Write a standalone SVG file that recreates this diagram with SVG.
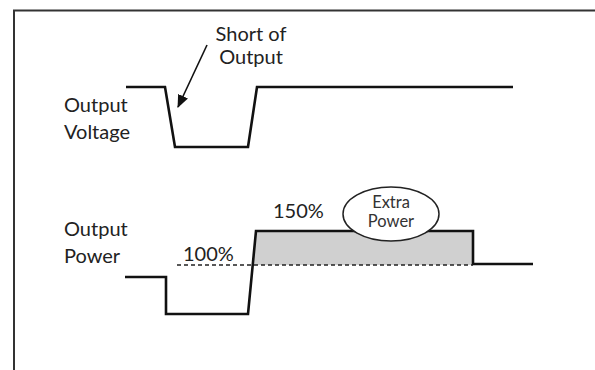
<svg xmlns="http://www.w3.org/2000/svg" width="595" height="370" viewBox="0 0 595 370">
  <style>
    .lbl { font-family: "Lato", "Open Sans", "Liberation Sans", sans-serif; font-size: 20px; fill: #222; }
    .small { font-family: "Lato", "Open Sans", "Liberation Sans", sans-serif; font-size: 16.5px; fill: #333; }
    .wave { fill: none; stroke: #111; stroke-width: 2.6; stroke-linejoin: miter; }
    .frame { fill: none; stroke: #333; stroke-width: 2; }
  </style>
  <defs>
    <marker id="arrowhead" viewBox="0 0 12 10" refX="11" refY="5" markerWidth="13" markerHeight="11" markerUnits="userSpaceOnUse" orient="auto">
      <path d="M0,0 L12,5 L0,10 z" fill="#111"/>
    </marker>
  </defs>
  <rect width="595" height="370" fill="#fff"/>

  <!-- outer frame: top and left edges -->
  <path class="frame" d="M14,370 V10.5 H595"/>

  <!-- output voltage trace -->
  <g id="voltage">
    <path class="wave" d="M126,87 H165 L175,147 H248 L257,87 H513"/>
    <text class="lbl" x="64" y="112">Output</text>
    <text class="lbl" x="64" y="139">Voltage</text>
  </g>

  <!-- output power trace with the extra power region -->
  <g id="power">
    <polygon points="252.7,265 256,231 473,231 473,265" fill="#d0d0d0"/>
    <path class="wave" d="M125,277 H166 V314 H248 L256,231 H473 V264 H533"/>
    <text class="lbl" x="64" y="236">Output</text>
    <text class="lbl" x="64" y="263">Power</text>
  </g>

  <g id="level-100">
    <text class="lbl" x="183" y="261">100%</text>
  </g>
  <g id="level-150">
    <text class="lbl" x="273" y="218">150%</text>
  </g>

  <g id="extra-power">
    <ellipse cx="391" cy="214" rx="48" ry="27" fill="#fff" stroke="#222" stroke-width="1.5"/>
    <text class="small" x="391" y="208" text-anchor="middle">Extra</text>
    <text class="small" x="391" y="227" text-anchor="middle">Power</text>
  </g>

  <g id="short-label">
    <text class="lbl" x="251" y="41" text-anchor="middle">Short of</text>
    <text class="lbl" x="251" y="64" text-anchor="middle">Output</text>
  </g>

  <!-- connectors -->
  <g id="connectors">
    <line x1="207" y1="45" x2="178" y2="107" stroke="#111" stroke-width="1.6" marker-end="url(#arrowhead)"/>
    <line x1="177" y1="265" x2="473" y2="265" stroke="#222" stroke-width="1.5" stroke-dasharray="4 3"/>
  </g>
</svg>
